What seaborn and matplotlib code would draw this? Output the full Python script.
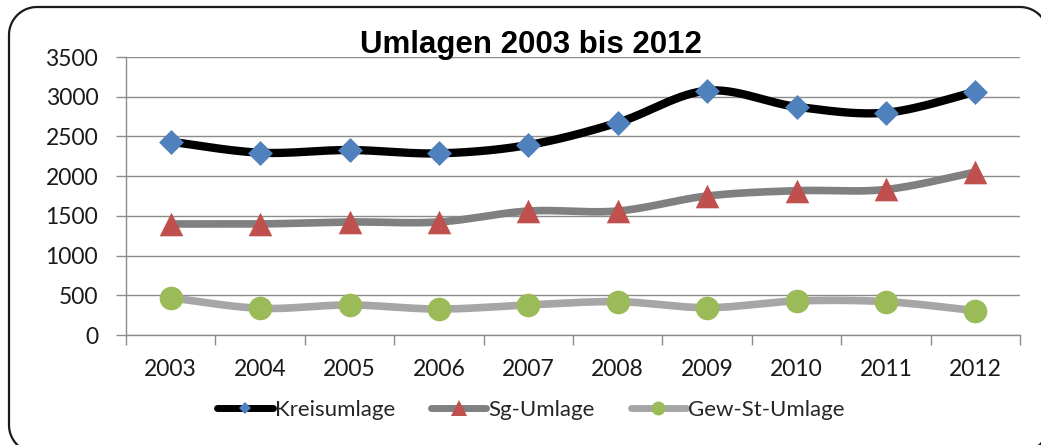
import numpy as np
import pandas as pd
import seaborn as sns
import matplotlib
matplotlib.use("Agg")
import matplotlib.pyplot as plt
from matplotlib.lines import Line2D
from matplotlib.patches import Polygon
from matplotlib.ticker import FixedLocator

years = ["2003", "2004", "2005", "2006", "2007", "2008", "2009", "2010", "2011", "2012"]
kreisumlage = [2434, 2295, 2329, 2287, 2392, 2673, 3076, 2874, 2799, 3063]
sg_umlage = [1398, 1398, 1423, 1423, 1561, 1561, 1750, 1817, 1832, 2052]
gew_st_umlage = [469, 336, 378, 327, 378, 420, 344, 428, 420, 306]
series_names = ["Kreisumlage", "Sg-Umlage", "Gew-St-Umlage"]
y_ticks = [0, 500, 1000, 1500, 2000, 2500, 3000, 3500]
title = "Umlagen 2003 bis 2012"

sns.set_style("white")
plt.rcParams["font.family"] = ["Lato", "DejaVu Sans"]

line_colors = ["#000000", "#808080", "#A6A6A6"]
marker_colors = ["#4F81BD", "#C0504D", "#9BBB59"]
markers = ["D", "^", "o"]
marker_sizes = [12.7, 17, 17]


def smooth(xs, ys, n=30):
    # Excel-like smoothed line (cubic Bezier with Catmull-Rom control points)
    xs = np.asarray(xs, float)
    ys = np.asarray(ys, float)
    out_x, out_y = [], []
    m = len(xs)
    for i in range(m - 1):
        p0 = np.array([xs[max(i - 1, 0)], ys[max(i - 1, 0)]])
        p1 = np.array([xs[i], ys[i]])
        p2 = np.array([xs[i + 1], ys[i + 1]])
        p3 = np.array([xs[min(i + 2, m - 1)], ys[min(i + 2, m - 1)]])
        c1 = p1 + (p2 - p0) / 6.0
        c2 = p2 - (p3 - p1) / 6.0
        t = np.linspace(0, 1, n, endpoint=(i == m - 2))[:, None]
        pts = ((1 - t) ** 3) * p1 + 3 * ((1 - t) ** 2) * t * c1 + 3 * (1 - t) * t ** 2 * c2 + t ** 3 * p2
        out_x.extend(pts[:, 0])
        out_y.extend(pts[:, 1])
    return out_x, out_y


fig = plt.figure(figsize=(10.41, 4.45), dpi=100)
ax = fig.add_axes([126 / 1041, 1 - 335 / 445, (1020 - 126) / 1041, (335 - 57) / 445])

xpos = np.arange(len(years))
all_values = [kreisumlage, sg_umlage, gew_st_umlage]

for name, vals, lc, mc, mk, ms in zip(series_names, all_values, line_colors, marker_colors, markers, marker_sizes):
    sx, sy = smooth(xpos, vals)
    dfs = pd.DataFrame({"x": sx, "y": sy})
    sns.lineplot(data=dfs, x="x", y="y", ax=ax, color=lc, linewidth=6 if lc == "#000000" else 5.5,
                 sort=False, estimator=None, zorder=3)
    dfp = pd.DataFrame({"x": xpos, "y": vals})
    sns.scatterplot(data=dfp, x="x", y="y", ax=ax, marker=mk, s=ms ** 2, color=mc,
                    edgecolor=mc, linewidth=0, zorder=4)

ax.set_xlim(-0.5, len(years) - 0.5)
ax.set_ylim(0, 3500)
ax.set_yticks(y_ticks)
ax.set_yticklabels([str(v) for v in y_ticks])
ax.set_xticks(xpos)
ax.set_xticklabels(years)
ax.xaxis.set_minor_locator(FixedLocator(np.arange(-0.5, len(years), 1.0)))
ax.tick_params(axis="x", which="major", length=0, pad=17, labelsize=16.5, colors="#1a1a1a")
ax.tick_params(axis="x", which="minor", length=7, width=1, color="#8c8c8c", direction="out", bottom=True)
ax.tick_params(axis="y", which="major", length=7, width=1, color="#8c8c8c", direction="out", left=True,
               pad=13, labelsize=16.5, labelcolor="#1a1a1a")
ax.set_xlabel("")
ax.set_ylabel("")
ax.grid(axis="y", color="#8c8c8c", linewidth=1)
ax.set_axisbelow(True)
for s in ["top", "right"]:
    ax.spines[s].set_visible(False)
for s in ["left", "bottom"]:
    ax.spines[s].set_color("#8c8c8c")
    ax.spines[s].set_linewidth(1)
    ax.spines[s].set_zorder(2)

fig.text(531 / 1041, 1 - 45 / 445, title, ha="center", va="center", fontsize=22.5, fontweight="bold",
         family=["Liberation Sans", "DejaVu Sans"], color="#000000", zorder=10)

handles = [
    Line2D([], [], color=lc, lw=5, marker=mk, markersize=ms, markerfacecolor=mc, markeredgecolor=mc,
           markeredgewidth=0)
    for lc, mc, mk, ms in zip(line_colors, marker_colors, markers, [6.5, 11, 10])
]
fig.legend(handles, series_names, loc="center", bbox_to_anchor=(531 / 1041, 1 - 410 / 445), ncol=3,
           frameon=False, fontsize=16, handlelength=2.5, handletextpad=0.1, columnspacing=1.6)

# rounded chart-area border (in inches, figure is 10.41 x 4.45 in)
x0, x1, y0, y1, r = 0.09, 10.48, -0.08, 4.38, 0.28
pts = []
for cx, cy, a0 in [(x1 - r, y1 - r, 0), (x0 + r, y1 - r, 90), (x0 + r, y0 + r, 180), (x1 - r, y0 + r, 270)]:
    ang = np.deg2rad(np.linspace(a0, a0 + 90, 25))
    pts.extend(zip(cx + r * np.cos(ang), cy + r * np.sin(ang)))
border = Polygon(pts, closed=True, transform=fig.dpi_scale_trans, facecolor="none",
                 edgecolor="#1a1a1a", linewidth=1.6, clip_on=False)
fig.add_artist(border)

fig.savefig("out.png", dpi=100)
